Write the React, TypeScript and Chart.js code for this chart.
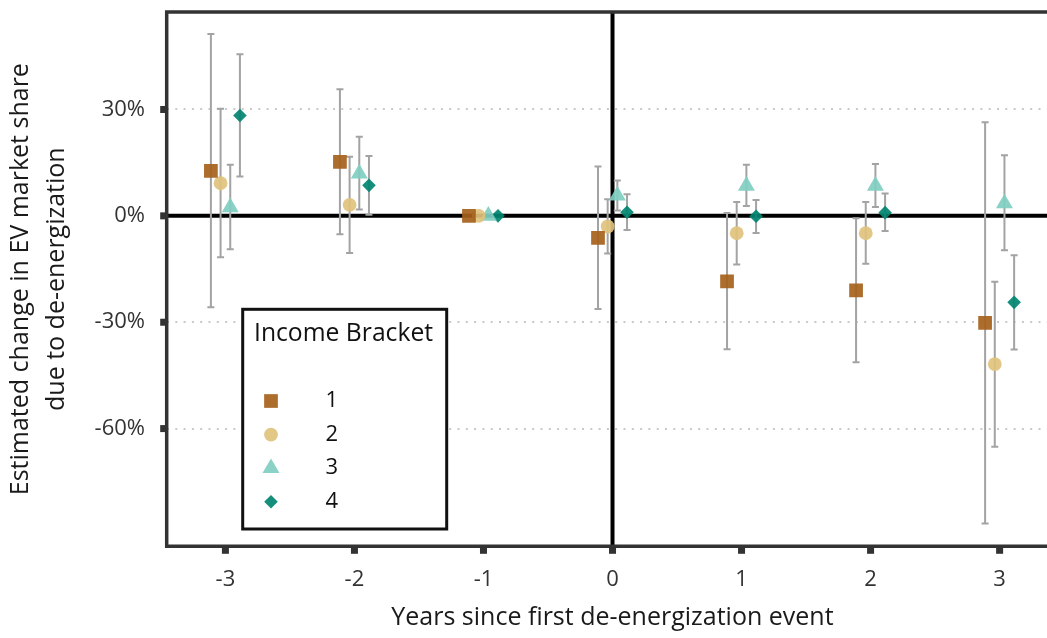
import React, { useEffect, useRef } from "react";
import { Chart, registerables } from "chart.js";
import { drawPoint } from "chart.js/helpers";

Chart.register(...registerables);

// ---------- data ----------
const YEARS = [-3, -2, -1, 0, 1, 2, 3];
const X_TICKS = [-3, -2, -1, 0, 1, 2, 3];
const Y_TICKS = [-60, -30, 0, 30];
const SERIES_NAMES = ["1", "2", "3", "4"];

const B1 = [12.7, 15.2, 0, -6.2, -18.5, -21.0, -30.2];
const B1_LOW = [-25.8, -5.2, null, -26.3, -37.6, -41.3, -86.8];
const B1_HIGH = [51.3, 35.7, null, 13.9, 0.8, -0.7, 26.4];

const B2 = [9.2, 3.1, 0, -3.0, -4.9, -4.9, -41.8];
const B2_LOW = [-11.7, -10.5, null, -10.6, -13.7, -13.5, -65.1];
const B2_HIGH = [30.2, 16.7, null, 4.7, 3.9, 3.9, -18.6];

const B3 = [2.4, 11.9, 0, 5.7, 8.5, 8.5, 3.5];
const B3_LOW = [-9.4, 1.8, null, 1.5, 2.8, 2.5, -9.7];
const B3_HIGH = [14.4, 22.3, null, 10.0, 14.4, 14.6, 17.1];

const B4 = [28.3, 8.6, 0, 1.0, -0.1, 0.9, -24.4];
const B4_LOW = [11.1, 0.3, null, -4.0, -4.8, -4.3, -37.7];
const B4_HIGH = [45.6, 16.9, null, 6.1, 4.5, 6.3, -11.1];

const VALUES = [B1, B2, B3, B4];
const LOWS = [B1_LOW, B2_LOW, B3_LOW, B4_LOW];
const HIGHS = [B1_HIGH, B2_HIGH, B3_HIGH, B4_HIGH];

// ---------- style ----------
const COLORS = ["rgba(166,97,26,0.92)", "rgba(223,194,125,0.92)", "rgba(128,205,193,0.92)", "rgba(1,133,113,0.92)"];
const SHAPES = ["rect", "circle", "triangle", "rectRot"];
const RADII = [9.7, 6.9, 9.8, 6.8];
const DODGE = [-0.1125, -0.0375, 0.0375, 0.1125];
const FONT = '"Open Sans", "Noto Sans", sans-serif';
const FRAME = "#333333";

const W = 1068;
const H = 638;

const customPlugin = {
  id: "custom",
  beforeDatasetsDraw(chart: any) {
    const { ctx, chartArea } = chart;
    const xs = chart.scales.x;
    const ys = chart.scales.y;
    ctx.save();
    // zero lines
    ctx.strokeStyle = "#000";
    ctx.lineWidth = 4;
    const y0 = ys.getPixelForValue(0);
    ctx.beginPath();
    ctx.moveTo(chartArea.left, y0);
    ctx.lineTo(chartArea.right, y0);
    ctx.stroke();
    const x0 = xs.getPixelForValue(0);
    ctx.beginPath();
    ctx.moveTo(x0, chartArea.top);
    ctx.lineTo(x0, chartArea.bottom);
    ctx.stroke();
    // error bars
    ctx.strokeStyle = "#a3a3a3";
    ctx.lineWidth = 2;
    for (let s = 0; s < VALUES.length; s++) {
      for (let i = 0; i < YEARS.length; i++) {
        const lo = LOWS[s][i];
        const hi = HIGHS[s][i];
        if (lo == null || hi == null) continue;
        const x = xs.getPixelForValue(YEARS[i] + DODGE[s]);
        const yl = ys.getPixelForValue(lo);
        const yh = ys.getPixelForValue(hi);
        ctx.beginPath();
        ctx.moveTo(x, yh);
        ctx.lineTo(x, yl);
        ctx.moveTo(x - 3.5, yh);
        ctx.lineTo(x + 3.5, yh);
        ctx.moveTo(x - 3.5, yl);
        ctx.lineTo(x + 3.5, yl);
        ctx.stroke();
      }
    }
    ctx.restore();
  },
  afterDraw(chart: any) {
    const { ctx, chartArea } = chart;
    const xs = chart.scales.x;
    const ys = chart.scales.y;
    ctx.save();
    // frame (top, left, bottom)
    ctx.strokeStyle = FRAME;
    ctx.lineWidth = 3.5;
    ctx.beginPath();
    ctx.moveTo(chartArea.right, chartArea.top);
    ctx.lineTo(chartArea.left, chartArea.top);
    ctx.lineTo(chartArea.left, chartArea.bottom);
    ctx.lineTo(chartArea.right, chartArea.bottom);
    ctx.stroke();
    // tick marks
    ctx.fillStyle = FRAME;
    for (const t of xs.ticks) {
      const px = xs.getPixelForValue(t.value);
      ctx.fillRect(px - 3.5, chartArea.bottom + 1.5, 7, 6);
    }
    for (const t of ys.ticks) {
      const py = ys.getPixelForValue(t.value);
      ctx.fillRect(chartArea.left - 6.5, py - 3.5, 5, 7);
    }
    // legend
    const bx = 242.7, by = 309.3, bw = 204, bh = 219.7;
    ctx.fillStyle = "#fff";
    ctx.fillRect(bx, by, bw, bh);
    ctx.strokeStyle = "#111";
    ctx.lineWidth = 3;
    ctx.strokeRect(bx, by, bw, bh);
    ctx.fillStyle = "#111";
    ctx.font = `24.7px ${FONT}`;
    ctx.textBaseline = "middle";
    ctx.textAlign = "left";
    ctx.fillText("Income Bracket", 254, 334);
    ctx.font = `22px ${FONT}`;
    ctx.textAlign = "center";
    for (let s = 0; s < SERIES_NAMES.length; s++) {
      const y = 401 + s * 33.6;
      ctx.fillStyle = COLORS[s];
      drawPoint(ctx, { pointStyle: SHAPES[s], radius: RADII[s], rotation: 0, borderWidth: 0 } as any, 271, y);
      ctx.fillStyle = "#111";
      ctx.fillText(SERIES_NAMES[s], 331.7, y);
    }
    ctx.restore();
  },
};

export default function App() {
  const ref = useRef<HTMLCanvasElement>(null);
  useEffect(() => {
    if (!ref.current) return;
    const datasets = VALUES.map((vals, s) => ({
      label: SERIES_NAMES[s],
      data: YEARS.map((yr, i) => ({ x: yr + DODGE[s], y: vals[i] })),
      pointStyle: SHAPES[s],
      pointRadius: RADII[s],
      backgroundColor: COLORS[s],
      borderColor: COLORS[s],
      borderWidth: 0,
      showLine: false,
    }));
    const chart = new Chart(ref.current, {
      type: "scatter",
      data: { datasets } as any,
      options: {
        animation: false,
        responsive: false,
        maintainAspectRatio: false,
        events: [],
        layout: { padding: { top: 12, left: 0, right: 4, bottom: 0 } },
        plugins: { legend: { display: false }, tooltip: { enabled: false } },
        scales: {
          x: {
            type: "linear",
            min: -3.455,
            max: 3.454,
            afterBuildTicks: (s: any) => {
              s.ticks = X_TICKS.map((v) => ({ value: v }));
            },
            afterFit: (s: any) => {
              s.height = H - 546.3;
              s.paddingLeft = 0;
              s.paddingRight = 0;
              s.paddingTop = 0;
              s.paddingBottom = 0;
            },
            grid: { display: false, drawTicks: false },
            border: { display: false },
            ticks: {
              padding: 20.5,
              color: "#333",
              font: { family: FONT, size: 22 },
              callback: (v: any) => String(v),
            },
            title: {
              display: true,
              text: "Years since first de-energization event",
              color: "#1a1a1a",
              font: { family: FONT, size: 25 },
              padding: { top: 0, bottom: 5 },
            },
          },
          y: {
            type: "linear",
            min: -93.2,
            max: 57.5,
            afterBuildTicks: (s: any) => {
              s.ticks = Y_TICKS.map((v) => ({ value: v }));
            },
            afterFit: (s: any) => {
              s.width = 166.7;
              s.paddingLeft = 0;
              s.paddingRight = 0;
              s.paddingTop = 0;
              s.paddingBottom = 0;
            },
            grid: {
              drawTicks: false,
              color: (c: any) => (c.tick && c.tick.value === 0 ? "rgba(0,0,0,0)" : "#c9c9c9"),
              lineWidth: 2,
            },
            border: { display: false, dash: [2, 6.3] },
            ticks: {
              padding: 21.7,
              color: "#333",
              font: { family: FONT, size: 22 },
              callback: (v: any) => `${v}%`,
            },
            title: {
              display: true,
              text: ["Estimated change in EV market share", "due to de-energization"],
              color: "#1a1a1a",
              font: { family: FONT, size: 25, lineHeight: 1.44 },
              padding: { top: 3, bottom: 0 },
            },
          },
        },
      } as any,
      plugins: [customPlugin],
    });
    return () => chart.destroy();
  }, []);
  return (
    <div style={{ position: "absolute", left: 0, top: 0, width: 1047, height: 638, overflow: "hidden", background: "#fff" }}>
      <canvas ref={ref} width={W} height={H} style={{ width: W, height: H, display: "block" }} />
    </div>
  );
}
